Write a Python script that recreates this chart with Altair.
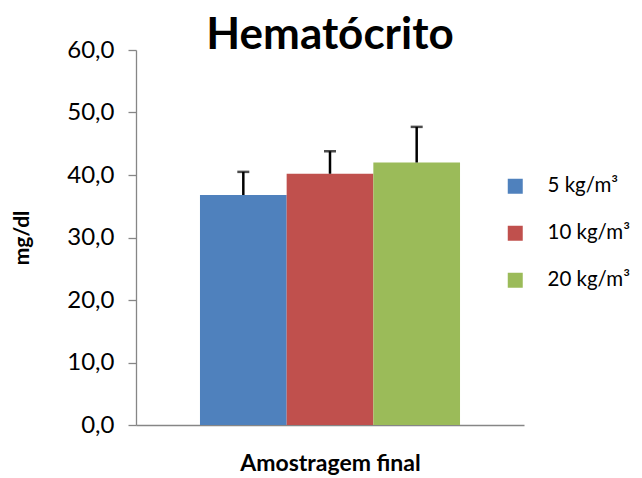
import altair as alt
import pandas as pd

category = ["Amostragem final"] * 3
series = ["5 kg/m³", "10 kg/m³", "20 kg/m³"]
values = [36.8, 40.2, 42.0]
errors = [3.7, 3.6, 5.7]
colors = ["#4F81BD", "#C0504D", "#9BBB59"]

df = pd.DataFrame({"cat": category, "serie": series, "valor": values, "erro": errors})
df["sup"] = df["valor"] + df["erro"]

FONT = "Lato"

x = alt.X("cat:N", scale=alt.Scale(paddingInner=0, paddingOuter=0.246),
          axis=alt.Axis(labels=False, ticks=False, title="Amostragem final",
                        titleFont=FONT, titleFontSize=23, titleFontWeight="bold",
                        titleColor="black", titlePadding=27,
                        domainColor="#868686", domainWidth=1.3))
xo = alt.XOffset("serie:N", sort=series, scale=alt.Scale(paddingInner=0, paddingOuter=0))

yscale = alt.Scale(domain=[0, 60])

bars = alt.Chart(df).mark_bar(opacity=1).encode(
    x=x, xOffset=xo,
    y=alt.Y("valor:Q", scale=yscale,
            axis=alt.Axis(values=[0, 10, 20, 30, 40, 50, 60], grid=False,
                          labelExpr="replace(format(datum.value, '.1f'), '.', ',')",
                          labelFont=FONT, labelFontSize=24, labelColor="black",
                          labelPadding=14, tickSize=8, tickColor="#868686",
                          domainColor="#868686", domainWidth=1.3, tickWidth=1.3,
                          title="mg/dl", titleFont=FONT, titleFontSize=21,
                          titleFontWeight="bold", titleColor="black", titlePadding=34)),
    color=alt.Color("serie:N", sort=series,
                    scale=alt.Scale(domain=series, range=colors),
                    legend=alt.Legend(title=None, orient="none", legendX=369, legendY=126,
                                      symbolType="square", symbolSize=225,
                                      symbolStrokeWidth=0, labelFont=FONT,
                                      labelFontSize=20.5, labelColor="black",
                                      labelOffset=22, rowPadding=26)),
)

rules = alt.Chart(df).mark_rule(color="black", strokeWidth=2.5).encode(
    x=x, xOffset=xo, y=alt.Y("valor:Q", scale=yscale), y2="sup:Q"
)
caps = alt.Chart(df).mark_tick(color="black", thickness=2.5, size=12, orient="horizontal").encode(
    x=x, xOffset=xo, y=alt.Y("sup:Q", scale=yscale)
)

chart = alt.layer(bars, rules, caps).properties(
    width=388, height=375,
    title=alt.TitleParams("Hematócrito", font=FONT, fontSize=44, fontWeight="bold",
                          color="black", anchor="middle", offset=0, dy=20),
    autosize=alt.AutoSizeParams(type="none"),
    padding={"left": 128, "top": 42, "right": 110, "bottom": 53},
).configure_view(stroke=None)

chart.save("out.html", embed_options={"renderer": "svg", "actions": False})
